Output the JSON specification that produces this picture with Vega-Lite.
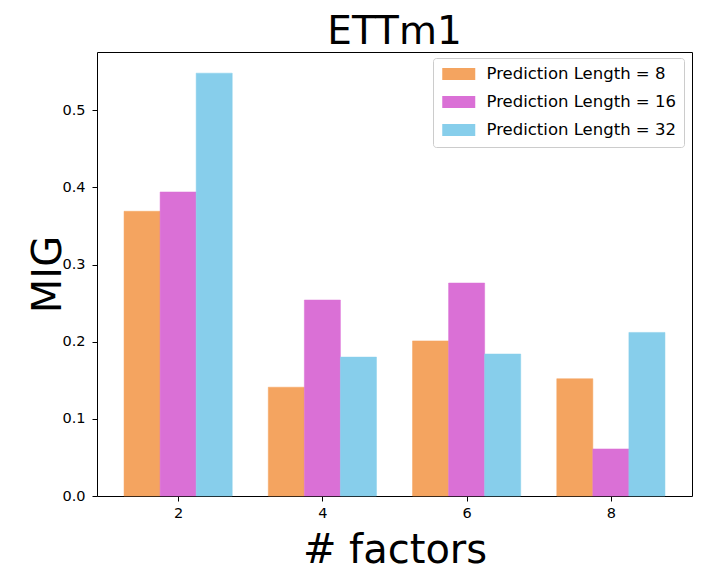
{
  "$schema": "https://vega.github.io/schema/vega-lite/v6.json",
  "width": 595,
  "height": 444,
  "autosize": {"type": "none"},
  "padding": {"left": 97, "top": 52, "right": 11, "bottom": 88},
  "background": "white",
  "title": {"text": "ETTm1", "fontSize": 39, "fontWeight": "normal", "font": "DejaVu Sans", "color": "black", "offset": 0},
  "config": {
    "font": "DejaVu Sans",
    "view": {"stroke": "black", "strokeWidth": 1},
    "axis": {"grid": false, "domain": false, "tickColor": "black", "tickSize": 5, "labelColor": "black", "labelFontSize": 14.5, "titleColor": "black", "titleFontSize": 40, "titleFontWeight": "normal", "labelFont": "DejaVu Sans", "titleFont": "DejaVu Sans"}
  },
  "data": {
    "values": [
      {"factor": 2, "series": "Prediction Length = 8", "MIG": 0.369},
      {"factor": 2, "series": "Prediction Length = 16", "MIG": 0.394},
      {"factor": 2, "series": "Prediction Length = 32", "MIG": 0.548},
      {"factor": 4, "series": "Prediction Length = 8", "MIG": 0.141},
      {"factor": 4, "series": "Prediction Length = 16", "MIG": 0.254},
      {"factor": 4, "series": "Prediction Length = 32", "MIG": 0.180},
      {"factor": 6, "series": "Prediction Length = 8", "MIG": 0.201},
      {"factor": 6, "series": "Prediction Length = 16", "MIG": 0.276},
      {"factor": 6, "series": "Prediction Length = 32", "MIG": 0.184},
      {"factor": 8, "series": "Prediction Length = 8", "MIG": 0.152},
      {"factor": 8, "series": "Prediction Length = 16", "MIG": 0.061},
      {"factor": 8, "series": "Prediction Length = 32", "MIG": 0.212}
    ]
  },
  "transform": [
    {"calculate": "indexof(['Prediction Length = 8','Prediction Length = 16','Prediction Length = 32'], datum.series)", "as": "k"},
    {"calculate": "datum.factor - 0.75 + datum.k * 0.5", "as": "x0"},
    {"calculate": "datum.x0 + 0.5", "as": "x1"}
  ],
  "mark": {"type": "bar", "strokeWidth": 0.5},
  "encoding": {
    "x": {"field": "x0", "type": "quantitative", "scale": {"domain": [0.875, 9.125], "nice": false, "zero": false},
      "axis": {"values": [2, 4, 6, 8], "format": "d", "title": "# factors", "labelPadding": 5, "titlePadding": 11}},
    "x2": {"field": "x1"},
    "y": {"field": "MIG", "type": "quantitative", "scale": {"domain": [0, 0.5754], "nice": false},
      "axis": {"values": [0, 0.1, 0.2, 0.3, 0.4, 0.5], "format": ".1f", "title": "MIG", "labelPadding": 7, "titlePadding": -7}},
    "y2": {"datum": 0},
    "color": {"field": "series", "type": "nominal",
      "scale": {"domain": ["Prediction Length = 8", "Prediction Length = 16", "Prediction Length = 32"], "range": ["#F4A460", "#DA70D6", "#87CEEB"]},
      "legend": {"title": null, "orient": "none", "legendX": 336, "legendY": 6, "direction": "vertical",
        "symbolType": "M-2.75,-1H2.75V1H-2.75Z", "symbolSize": 144, "symbolStrokeWidth": 0, "symbolOpacity": 1, "symbolOffset": 9.75,
        "labelFontSize": 16.5, "labelColor": "black", "labelOffset": 19.5, "rowPadding": 11,
        "padding": 7.75, "strokeColor": "#cccccc", "fillColor": "white", "cornerRadius": 3, "labelLimit": 300}
    },
    "stroke": {"field": "series", "type": "nominal", "scale": {"domain": ["Prediction Length = 8", "Prediction Length = 16", "Prediction Length = 32"], "range": ["#F4A460", "#DA70D6", "#87CEEB"]}, "legend": null}
  }
}
